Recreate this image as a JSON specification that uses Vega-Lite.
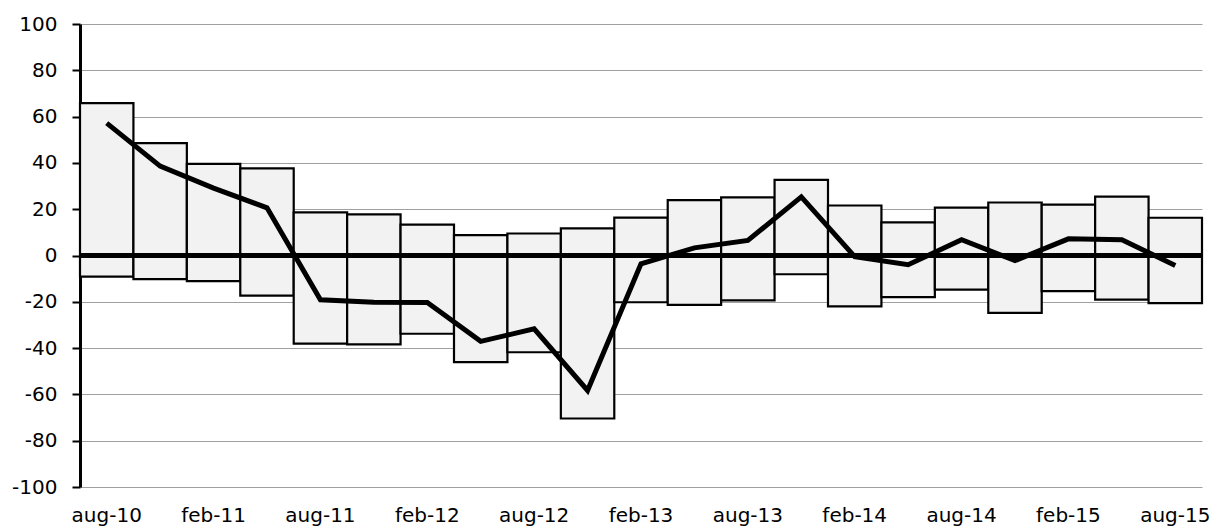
{
  "$schema": "https://vega.github.io/schema/vega-lite/v6.json",
  "autosize": {"type": "none"},
  "padding": {"left": 80, "top": 24, "right": 14, "bottom": 39},
  "width": 1122,
  "height": 463,
  "background": "white",
  "data": {"values": [
    {"q": "aug-10", "low": -9.1, "high": 65.8, "v": 57.2},
    {"q": "nov-10", "low": -10.2, "high": 48.5, "v": 38.6},
    {"q": "feb-11", "low": -11.1, "high": 39.6, "v": 29.1},
    {"q": "may-11", "low": -17.3, "high": 37.6, "v": 20.6},
    {"q": "aug-11", "low": -38.1, "high": 18.6, "v": -19.1},
    {"q": "nov-11", "low": -38.4, "high": 17.8, "v": -20.2},
    {"q": "feb-12", "low": -33.8, "high": 13.3, "v": -20.3},
    {"q": "may-12", "low": -46.1, "high": 8.8, "v": -37.1},
    {"q": "aug-12", "low": -41.8, "high": 9.5, "v": -31.7},
    {"q": "nov-12", "low": -70.4, "high": 11.7, "v": -58.3},
    {"q": "feb-13", "low": -20.2, "high": 16.4, "v": -3.6},
    {"q": "may-13", "low": -21.3, "high": 23.9, "v": 3.3},
    {"q": "aug-13", "low": -19.4, "high": 25.1, "v": 6.5},
    {"q": "nov-13", "low": -8.1, "high": 32.7, "v": 25.3},
    {"q": "feb-14", "low": -22.0, "high": 21.6, "v": -0.5},
    {"q": "may-14", "low": -18.0, "high": 14.3, "v": -4.0},
    {"q": "aug-14", "low": -14.7, "high": 20.7, "v": 6.8},
    {"q": "nov-14", "low": -24.8, "high": 22.9, "v": -2.2},
    {"q": "feb-15", "low": -15.4, "high": 22.0, "v": 7.2},
    {"q": "may-15", "low": -19.1, "high": 25.4, "v": 6.8},
    {"q": "aug-15", "low": -20.6, "high": 16.3, "v": -4.3}
  ]},
  "config": {
    "view": {"stroke": null},
    "font": "DejaVu Sans"
  },
  "layer": [
    {
      "mark": {"type": "bar", "fill": "#f2f2f2", "stroke": "black", "strokeWidth": 2.2},
      "encoding": {
        "x": {
          "field": "q", "type": "ordinal", "sort": null,
          "scale": {"paddingInner": 0, "paddingOuter": 0},
          "axis": {
            "title": null, "domain": false, "ticks": false, "grid": false,
            "labelAngle": 0, "labelPadding": 18,
            "labelFont": "DejaVu Sans", "labelFontSize": 20, "labelColor": "black",
            "values": ["aug-10", "feb-11", "aug-11", "feb-12", "aug-12", "feb-13", "aug-13", "feb-14", "aug-14", "feb-15", "aug-15"]
          }
        },
        "y": {
          "field": "low", "type": "quantitative",
          "scale": {"domain": [-100, 100], "nice": false},
          "axis": {
            "title": null, "values": [-100, -80, -60, -40, -20, 0, 20, 40, 60, 80, 100],
            "labelExpr": "'' + datum.value",
            "domain": true, "domainColor": "black", "domainWidth": 3,
            "ticks": true, "tickColor": "black", "tickSize": 8, "tickWidth": 2,
            "grid": true, "gridColor": "#a0a0a0", "gridWidth": 1,
            "labelPadding": 15,
            "labelFont": "DejaVu Sans", "labelFontSize": 20, "labelColor": "black"
          }
        },
        "y2": {"field": "high"}
      }
    },
    {
      "mark": {"type": "rule", "color": "black", "strokeWidth": 4},
      "encoding": {"y": {"datum": 0}}
    },
    {
      "mark": {"type": "line", "color": "black", "strokeWidth": 5, "strokeJoin": "miter"},
      "encoding": {
        "x": {"field": "q", "type": "ordinal", "sort": null},
        "y": {"field": "v", "type": "quantitative"}
      }
    }
  ]
}
